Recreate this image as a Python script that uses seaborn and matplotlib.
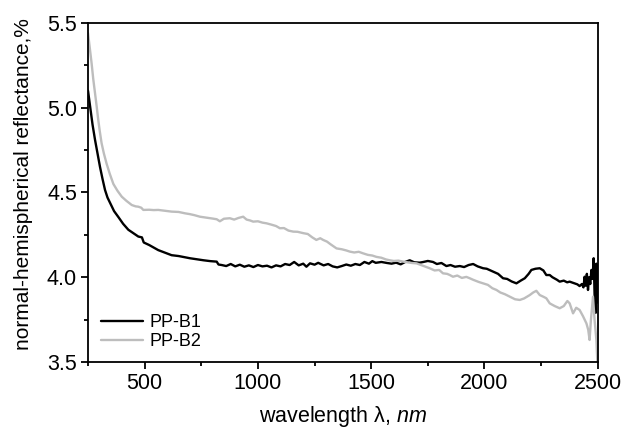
import matplotlib
matplotlib.use('Agg')
import matplotlib.pyplot as plt
from matplotlib.ticker import MultipleLocator, FormatStrFormatter
import seaborn as sns
import pandas as pd

# PP-B1 (black)
wl_b1 = [250, 259, 270, 281, 292, 303, 314, 325, 336, 347, 365, 384, 405, 428, 450,
         472, 488, 496, 520, 540, 560, 590, 619, 650, 678, 700, 729, 760, 790, 818,
         826, 840, 860, 880, 900, 920, 940, 960, 980, 1000, 1020, 1040, 1060, 1080,
         1100, 1120, 1140, 1160, 1180, 1200, 1214, 1230, 1250, 1266, 1290, 1310, 1330,
         1350, 1370, 1390, 1410, 1430, 1450, 1470, 1490, 1505, 1520, 1545, 1570, 1590,
         1610, 1630, 1650, 1670, 1690, 1714, 1730, 1750, 1773, 1790, 1810, 1832, 1850,
         1870, 1891, 1910, 1930, 1950, 1970, 1994, 2010, 2038, 2060, 2082, 2100, 2120,
         2141, 2160, 2178, 2195, 2207, 2225, 2244, 2260, 2273, 2288, 2300, 2320, 2332,
         2350, 2365, 2376, 2395, 2410, 2420, 2430, 2437, 2442, 2447, 2452, 2457, 2462,
         2467, 2472, 2477, 2482, 2486, 2491, 2494, 2497, 2500]
r_b1 = [5.10, 5.01, 4.90, 4.81, 4.73, 4.65, 4.58, 4.515, 4.47, 4.44, 4.39, 4.355, 4.315,
        4.28, 4.26, 4.24, 4.235, 4.205, 4.19, 4.175, 4.16, 4.145, 4.13, 4.125, 4.118,
        4.112, 4.106, 4.10, 4.095, 4.092, 4.075, 4.072, 4.066, 4.078, 4.064, 4.074,
        4.062, 4.07, 4.06, 4.072, 4.064, 4.068, 4.058, 4.07, 4.064, 4.078, 4.072, 4.09,
        4.07, 4.08, 4.062, 4.082, 4.074, 4.085, 4.07, 4.078, 4.064, 4.058, 4.066, 4.075,
        4.068, 4.078, 4.072, 4.09, 4.08, 4.095, 4.085, 4.09, 4.084, 4.08, 4.086, 4.076,
        4.09, 4.10, 4.088, 4.086, 4.09, 4.096, 4.09, 4.078, 4.084, 4.066, 4.072, 4.062,
        4.066, 4.06, 4.072, 4.078, 4.064, 4.053, 4.05, 4.033, 4.02, 3.994, 3.99, 3.975,
        3.964, 3.98, 3.994, 4.02, 4.043, 4.05, 4.053, 4.04, 4.013, 4.013, 4.0, 3.985,
        3.974, 3.98, 3.97, 3.974, 3.965, 3.958, 3.948, 3.96, 3.94, 4.003, 3.95, 4.02,
        3.925, 4.0, 3.96, 4.043, 3.99, 4.112, 3.9, 3.79, 4.08, 3.85, 3.95]

# PP-B2 (grey)
wl_b2 = [250, 258, 266, 273, 281, 288, 295, 302, 310, 320, 332, 346, 362, 380, 399,
         420, 443, 460, 472, 485, 494, 520, 540, 560, 590, 619, 650, 678, 700, 720,
         744, 770, 800, 818, 832, 850, 876, 895, 915, 935, 950, 965, 979, 1000, 1020,
         1038, 1060, 1080, 1097, 1115, 1135, 1156, 1175, 1200, 1220, 1240, 1258, 1275,
         1288, 1305, 1320, 1347, 1370, 1390, 1406, 1425, 1445, 1464, 1485, 1505, 1523,
         1545, 1565, 1582, 1600, 1620, 1641, 1660, 1680, 1700, 1720, 1740, 1758, 1780,
         1800, 1817, 1835, 1847, 1861, 1880, 1900, 1920, 1935, 1950, 1975, 1994, 2015,
         2035, 2053, 2070, 2090, 2112, 2135, 2156, 2175, 2200, 2215, 2229, 2244, 2260,
         2273, 2288, 2310, 2332, 2350, 2366, 2376, 2391, 2405, 2420, 2435, 2450, 2458,
         2464, 2470, 2479, 2486, 2494, 2500]
r_b2 = [5.44, 5.35, 5.26, 5.17, 5.085, 5.01, 4.93, 4.86, 4.79, 4.73, 4.67, 4.61, 4.55,
        4.51, 4.475, 4.45, 4.426, 4.418, 4.416, 4.41, 4.397, 4.398, 4.396, 4.397, 4.392,
        4.387, 4.385, 4.377, 4.372, 4.366, 4.357, 4.352, 4.346, 4.342, 4.33, 4.345,
        4.348, 4.34, 4.35, 4.357, 4.34, 4.335, 4.328, 4.33, 4.322, 4.318, 4.31, 4.302,
        4.289, 4.29, 4.275, 4.269, 4.268, 4.26, 4.255, 4.235, 4.22, 4.23, 4.22, 4.21,
        4.195, 4.17, 4.165, 4.158, 4.151, 4.146, 4.15, 4.141, 4.132, 4.128, 4.12, 4.115,
        4.105, 4.10, 4.096, 4.098, 4.092, 4.088, 4.084, 4.082, 4.072, 4.062, 4.053, 4.04,
        4.043, 4.023, 4.02, 4.013, 4.003, 4.01, 3.996, 4.002, 3.994, 3.985, 3.972, 3.964,
        3.955, 3.935, 3.925, 3.91, 3.90, 3.885, 3.87, 3.866, 3.875, 3.895, 3.91, 3.92,
        3.895, 3.885, 3.876, 3.846, 3.83, 3.817, 3.83, 3.86, 3.846, 3.787, 3.82, 3.807,
        3.77, 3.728, 3.69, 3.63, 3.75, 3.885, 3.75, 3.63, 3.45]

labels = ["PP-B1", "PP-B2"]
colors = {"PP-B1": "#000000", "PP-B2": "#bdbdbd"}

df = pd.concat([
    pd.DataFrame({"wl": wl_b1, "r": r_b1, "sample": labels[0]}),
    pd.DataFrame({"wl": wl_b2, "r": r_b2, "sample": labels[1]}),
], ignore_index=True)

sns.set_style("ticks")
plt.rcParams['font.family'] = ['Liberation Sans', 'DejaVu Sans']
plt.rcParams['text.color'] = 'black'
plt.rcParams['axes.labelcolor'] = 'black'
plt.rcParams['mathtext.fontset'] = 'custom'
plt.rcParams['mathtext.rm'] = 'Liberation Sans'
plt.rcParams['mathtext.it'] = 'Liberation Sans:italic'

fig = plt.figure(figsize=(6.22, 4.32), dpi=100)
ax = fig.add_axes([0.1415, 0.162, 0.8195, 0.785])

sns.lineplot(data=df, x="wl", y="r", hue="sample", palette=colors,
             estimator=None, sort=False, linewidth=1.7, ax=ax)

ax.set_xlim(250, 2500)
ax.set_ylim(3.5, 5.5)
ax.xaxis.set_major_locator(MultipleLocator(500))
ax.xaxis.set_minor_locator(MultipleLocator(250))
ax.yaxis.set_major_locator(MultipleLocator(0.5))
ax.yaxis.set_minor_locator(MultipleLocator(0.25))
ax.yaxis.set_major_formatter(FormatStrFormatter('%.1f'))

for s in ax.spines.values():
    s.set_linewidth(1.3)
    s.set_color('black')
ax.tick_params(which='major', direction='out', length=5, width=1.3,
               labelsize=15.5, colors='black', pad=3)
ax.tick_params(which='minor', direction='out', length=3, width=1.3, colors='black')

ax.set_xlabel(r"wavelength λ, $\it{nm}$", fontsize=15.5, labelpad=7)
ax.set_ylabel("normal-hemispherical reflectance,%", fontsize=15)
ax.yaxis.set_label_coords(-0.108, 0.525)

ax.legend(loc='lower left', bbox_to_anchor=(0.026, 0.035), frameon=False,
          fontsize=13, handlelength=2.3, handletextpad=0.35,
          labelspacing=0.12, borderpad=0, borderaxespad=0)

fig.savefig("out.png", dpi=100)
plt.close(fig)
